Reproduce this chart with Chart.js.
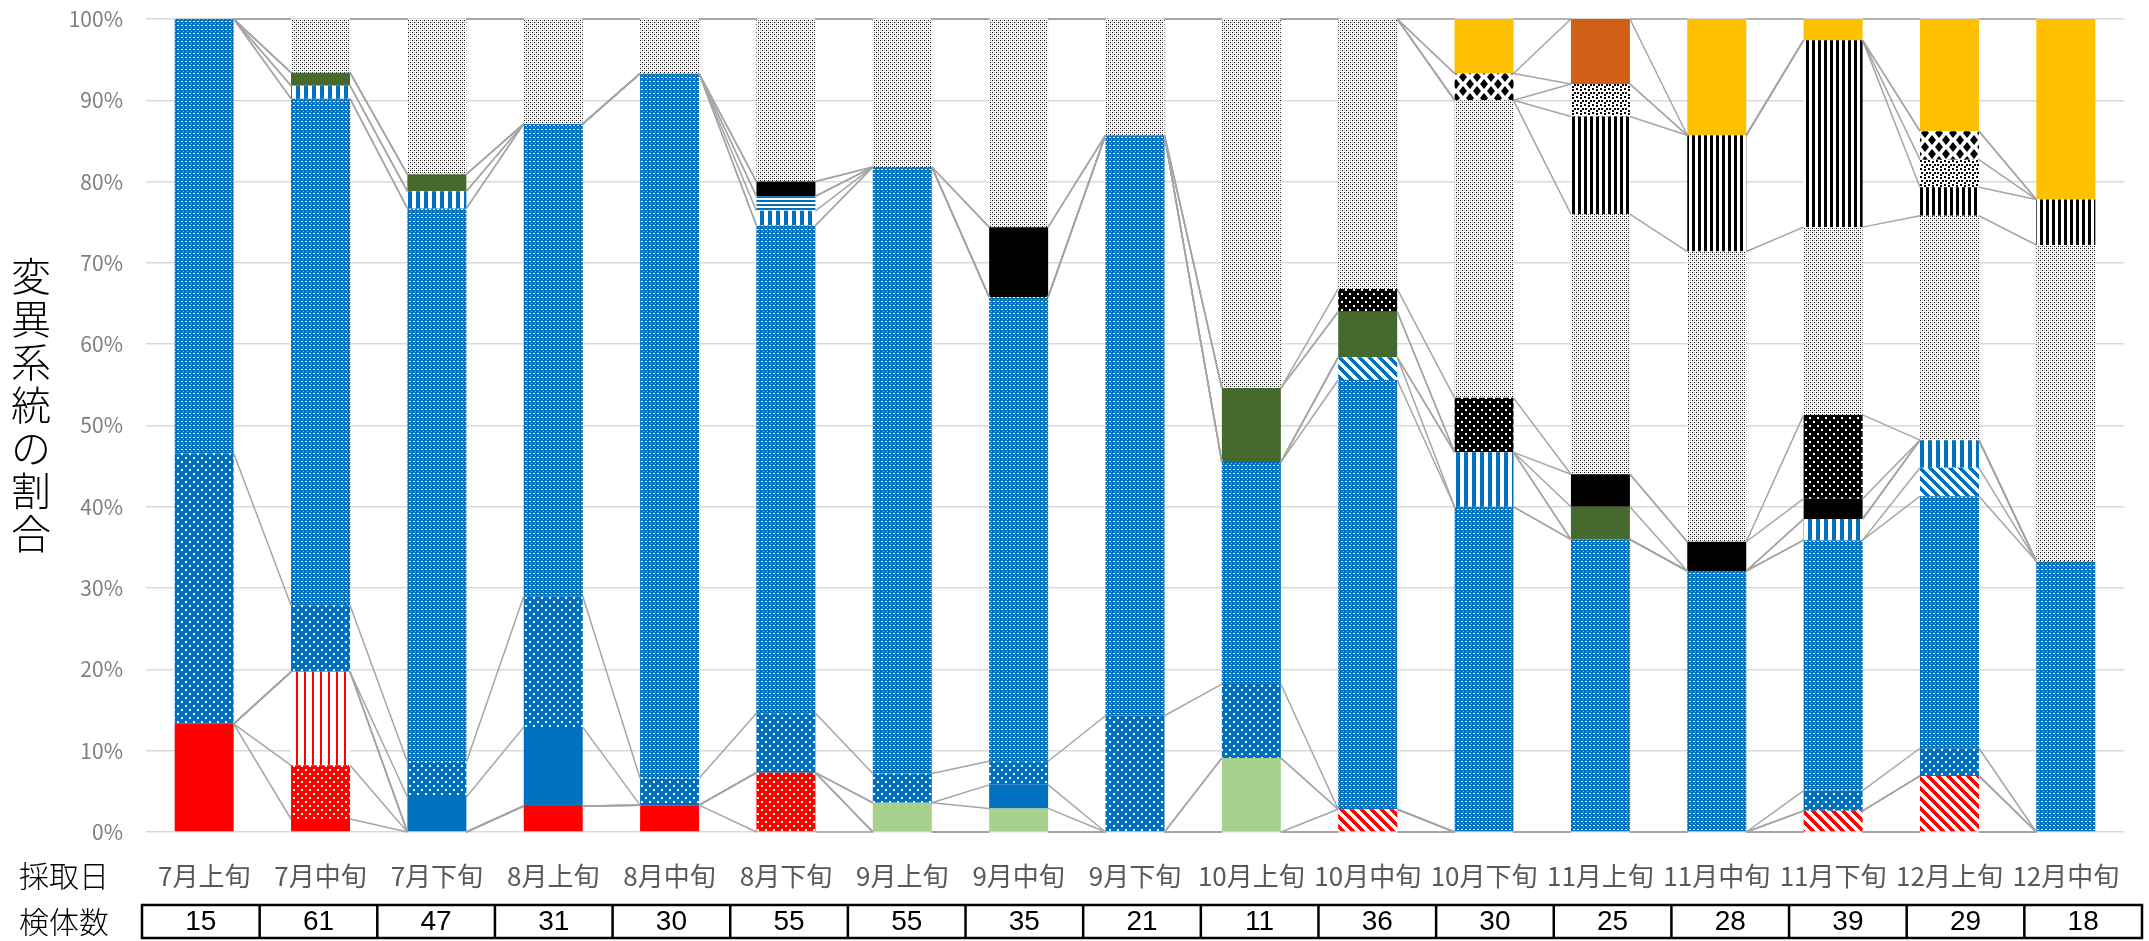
<!DOCTYPE html>
<html lang="ja">
<head>
<meta charset="utf-8">
<title>変異系統の割合</title>
<script src="https://cdn.jsdelivr.net/npm/chart.js"></script>
<style>
    html, body { margin: 0; padding: 0; background: #fff; }
    #wrap { width: 2149px; height: 941px; }
</style>
</head>
<body>
<div id="wrap"><canvas id="chart" width="2149" height="941"></canvas></div>
<script>
// 採取日と検体数
var labels = ['7月上旬', '7月中旬', '7月下旬', '8月上旬', '8月中旬', '8月下旬', '9月上旬', '9月中旬', '9月下旬',
              '10月上旬', '10月中旬', '10月下旬', '11月上旬', '11月中旬', '11月下旬', '12月上旬', '12月中旬'];
var counts = [15, 61, 47, 31, 30, 55, 55, 35, 21, 11, 36, 30, 25, 28, 39, 29, 18];

// 割合 (%) 下から順に積み上げ
var redSolid      = [13.3, 1.6, 0, 3.2, 3.3, 0, 0, 0, 0, 0, 0, 0, 0, 0, 0, 0, 0];
var redDots       = [0, 6.6, 0, 0, 0, 7.3, 0, 0, 0, 0, 0, 0, 0, 0, 0, 0, 0];
var redVStripe    = [0, 11.5, 0, 0, 0, 0, 0, 0, 0, 0, 0, 0, 0, 0, 0, 0, 0];
var redDiag       = [0, 0, 0, 0, 0, 0, 0, 0, 0, 0, 2.8, 0, 0, 0, 2.6, 6.9, 0];
var lightGreen    = [0, 0, 0, 0, 0, 0, 3.6, 2.9, 0, 9.1, 0, 0, 0, 0, 0, 0, 0];
var blueSolid     = [0, 0, 4.3, 9.7, 0, 0, 0, 2.9, 0, 0, 0, 0, 0, 0, 0, 0, 0];
var blueSparse    = [33.3, 8.2, 4.3, 16.1, 3.3, 7.3, 3.6, 2.9, 14.3, 9.1, 0, 0, 0, 0, 2.5, 3.4, 0];
var blueDense     = [53.4, 62.3, 68.1, 58.1, 86.7, 60.0, 74.6, 57.1, 71.4, 27.3, 52.8, 40.0, 36.0, 32.1, 30.8, 31.0, 33.3];
var blueDiag      = [0, 0, 0, 0, 0, 0, 0, 0, 0, 0, 2.8, 0, 0, 0, 0, 3.5, 0];
var blueVStripe   = [0, 1.6, 2.1, 0, 0, 1.8, 0, 0, 0, 0, 0, 6.7, 0, 0, 2.6, 3.4, 0];
var blueHStripe   = [0, 0, 0, 0, 0, 1.8, 0, 0, 0, 0, 0, 0, 0, 0, 0, 0, 0];
var darkGreen     = [0, 1.6, 2.1, 0, 0, 0, 0, 0, 0, 9.1, 5.6, 0, 4.0, 0, 0, 0, 0];
var blackSolid    = [0, 0, 0, 0, 0, 1.8, 0, 8.6, 0, 0, 0, 0, 4.0, 3.6, 2.5, 0, 0];
var blackDots     = [0, 0, 0, 0, 0, 0, 0, 0, 0, 0, 2.8, 6.7, 0, 0, 10.3, 0, 0];
var whiteDots     = [0, 6.6, 19.1, 12.9, 6.7, 20.0, 18.2, 25.6, 14.3, 45.4, 33.2, 36.6, 32.0, 35.7, 23.1, 27.6, 38.9];
var blackVStripe  = [0, 0, 0, 0, 0, 0, 0, 0, 0, 0, 0, 0, 12.0, 14.3, 23.0, 3.5, 5.6];
var blackConfetti = [0, 0, 0, 0, 0, 0, 0, 0, 0, 0, 0, 0, 4.0, 0, 0, 3.4, 0];
var blackDiamond  = [0, 0, 0, 0, 0, 0, 0, 0, 0, 0, 0, 3.3, 0, 0, 0, 3.5, 0];
var orange        = [0, 0, 0, 0, 0, 0, 0, 0, 0, 0, 0, 0, 8.0, 0, 0, 0, 0];
var yellow        = [0, 0, 0, 0, 0, 0, 0, 0, 0, 0, 0, 6.7, 0, 14.3, 2.6, 13.8, 22.2];

var yTitle = '変異系統の割合';
var rowHeads = ['採取日', '検体数'];

var BLUE = '#0070C0';
var RED = '#FF0000';
var FONT = "'Noto Sans CJK JP', 'Noto Sans', sans-serif";

var ctx = document.getElementById('chart').getContext('2d');

// 塗りつぶしパターン
function tile(w, h, draw) {
    var c = document.createElement('canvas');
    c.width = w;
    c.height = h;
    draw(c.getContext('2d'), w, h);
    return ctx.createPattern(c, 'repeat');
}
function dots(bg, fg) {
    return tile(8, 8, function(g) {
        g.fillStyle = bg; g.fillRect(0, 0, 8, 8);
        g.fillStyle = fg;
        g.fillRect(1, 1, 2, 2);
        g.fillRect(5, 5, 2, 2);
    });
}
function vstripe(fg, bg, w, on) {
    return tile(w, 8, function(g) {
        g.fillStyle = bg; g.fillRect(0, 0, w, 8);
        g.fillStyle = fg; g.fillRect(0, 0, on, 8);
    });
}
function diag(fg) {
    return tile(10, 10, function(g) {
        g.fillStyle = '#fff'; g.fillRect(0, 0, 10, 10);
        g.fillStyle = fg;
        for (var y = 0; y < 10; y++) {
            for (var x = 0; x < 10; x++) {
                if ((x - y + 10) % 10 < 5) g.fillRect(x, y, 1, 1);
            }
        }
    });
}
function diamond(g, cx, cy) {
    g.beginPath();
    g.moveTo(cx, cy - 5);
    g.lineTo(cx + 4, cy);
    g.lineTo(cx, cy + 5);
    g.lineTo(cx - 4, cy);
    g.closePath();
    g.fill();
}

var pBlueDense = tile(4, 4, function(g) {
    g.fillStyle = BLUE; g.fillRect(0, 0, 4, 4);
    g.fillStyle = '#fff'; g.fillRect(1, 1, 2, 1);
    g.fillStyle = 'rgba(255,255,255,0.5)'; g.fillRect(3, 3, 1, 1);
});
var pWhiteDots = tile(4, 4, function(g) {
    g.fillStyle = '#fff'; g.fillRect(0, 0, 4, 4);
    g.fillStyle = '#000';
    g.fillRect(0, 0, 1, 1);
    g.fillRect(2, 2, 1, 1);
    g.fillStyle = '#aaa';
    g.fillRect(2, 0, 1, 1);
    g.fillRect(0, 2, 1, 1);
});
var pBlueH = tile(4, 4, function(g) {
    g.fillStyle = '#fff'; g.fillRect(0, 0, 4, 4);
    g.fillStyle = BLUE; g.fillRect(0, 0, 4, 2);
});
var pConfetti = tile(8, 8, function(g) {
    g.fillStyle = '#fff'; g.fillRect(0, 0, 8, 8);
    g.fillStyle = '#000';
    g.fillRect(0, 0, 2, 2);
    g.fillRect(4, 1, 2, 2);
    g.fillRect(6, 4, 2, 2);
    g.fillRect(1, 4, 2, 2);
    g.fillRect(4, 6, 2, 2);
});
var pDiamond = tile(14, 14, function(g) {
    g.fillStyle = '#fff'; g.fillRect(0, 0, 14, 14);
    g.fillStyle = '#000';
    diamond(g, 7, 7);
    diamond(g, 0, 0); diamond(g, 14, 0); diamond(g, 0, 14); diamond(g, 14, 14);
});

var series = [
    { data: redSolid, fill: RED },
    { data: redDots, fill: dots(RED, '#fff') },
    { data: redVStripe, fill: vstripe(RED, '#fff', 8, 2) },
    { data: redDiag, fill: diag(RED) },
    { data: lightGreen, fill: '#A9D18E' },
    { data: blueSolid, fill: BLUE },
    { data: blueSparse, fill: dots(BLUE, '#fff') },
    { data: blueDense, fill: pBlueDense },
    { data: blueDiag, fill: diag(BLUE) },
    { data: blueVStripe, fill: vstripe(BLUE, '#fff', 8, 4) },
    { data: blueHStripe, fill: pBlueH },
    { data: darkGreen, fill: '#466A2D' },
    { data: blackSolid, fill: '#000' },
    { data: blackDots, fill: dots('#000', '#fff') },
    { data: whiteDots, fill: pWhiteDots },
    { data: blackVStripe, fill: vstripe('#000', '#fff', 6, 3) },
    { data: blackConfetti, fill: pConfetti },
    { data: blackDiamond, fill: pDiamond },
    { data: orange, fill: '#D06016' },
    { data: yellow, fill: '#FFC000' }
];

// 区分線 (系列線)
var seriesLines = {
    id: 'seriesLines',
    afterDatasetsDraw: function(chart) {
        var c = chart.ctx;
        c.save();
        c.strokeStyle = '#A5A5A5';
        c.lineWidth = 1.5;
        chart.data.datasets.forEach(function(ds, d) {
            var bars = chart.getDatasetMeta(d).data;
            for (var i = 0; i < bars.length - 1; i++) {
                var a = bars[i], b = bars[i + 1];
                c.beginPath();
                c.moveTo(a.x + a.width / 2, a.y);
                c.lineTo(b.x - b.width / 2, b.y);
                c.stroke();
            }
        });
        c.restore();
    }
};

// 縦書きの軸タイトルと検体数の表
var extras = {
    id: 'extras',
    afterDraw: function(chart) {
        var c = chart.ctx;
        c.save();
        c.fillStyle = '#000';
        c.textAlign = 'center';
        c.textBaseline = 'middle';
        c.font = '300 40px ' + FONT;
        for (var k = 0; k < yTitle.length; k++) {
            c.fillText(yTitle[k], 31, 276 + k * 43);
        }

        c.textAlign = 'left';
        c.font = '300 30px ' + FONT;
        c.fillText(rowHeads[0], 19, 876);
        c.fillText(rowHeads[1], 19, 922);

        var left = 142, right = 2142, top = 905, bottom = 938;
        var w = (right - left) / counts.length;
        c.strokeStyle = '#000';
        c.lineWidth = 2.5;
        c.strokeRect(left, top, right - left, bottom - top);
        c.beginPath();
        for (var i = 1; i < counts.length; i++) {
            c.moveTo(left + i * w, top);
            c.lineTo(left + i * w, bottom);
        }
        c.stroke();

        c.textAlign = 'center';
        c.font = "28px 'Liberation Sans Narrow', 'Liberation Sans', Arial, sans-serif";
        for (var j = 0; j < counts.length; j++) {
            c.fillText(String(counts[j]), left + (j + 0.5) * w, 922);
        }
        c.restore();
    }
};

var chart = new Chart(ctx, {
    type: 'bar',
    data: {
        labels: labels,
        datasets: series.map(function(s) {
            return {
                data: s.data,
                backgroundColor: s.fill,
                borderWidth: 0,
                barPercentage: 1,
                categoryPercentage: 0.507
            };
        })
    },
    options: {
        responsive: false,
        animation: false,
        events: [],
        layout: { padding: { top: 19, right: 25, bottom: 0, left: 0 } },
        plugins: {
            legend: { display: false },
            tooltip: { enabled: false }
        },
        scales: {
            x: {
                stacked: true,
                grid: { display: false, drawTicks: false },
                border: { display: false },
                ticks: {
                    color: '#595959',
                    font: { family: FONT, size: 26 },
                    padding: 29,
                    maxRotation: 0,
                    autoSkip: false
                },
                afterFit: function(s) { s.height = 109; }
            },
            y: {
                stacked: true,
                min: 0,
                max: 100,
                grid: { color: '#D9D9D9', lineWidth: 1.5, drawTicks: false },
                border: { display: false },
                ticks: {
                    stepSize: 10,
                    color: '#7F7F7F',
                    font: { family: FONT, size: 21 },
                    padding: 23,
                    callback: function(v) { return v + '%'; }
                },
                afterFit: function(s) {
                    s.width = 146;
                    s.paddingTop = 0;
                    s.paddingBottom = 0;
                }
            }
        }
    },
    plugins: [seriesLines, extras]
});
</script>
</body>
</html>
